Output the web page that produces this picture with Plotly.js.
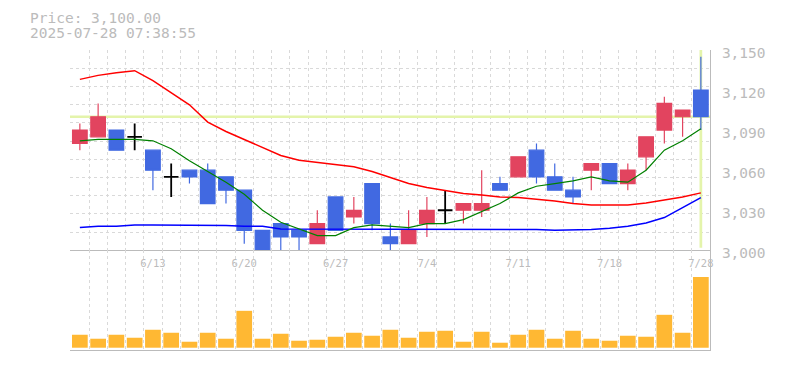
<!DOCTYPE html>
<html><head><meta charset="utf-8">
<script src="https://cdn.plot.ly/plotly-3.0.1.min.js"></script>
<style>html,body{margin:0;padding:0;background:#fff}#chart{width:785px;height:370px}</style>
</head><body><div id="chart"></div>
<script>
// ---- data ----
const dates = ['6/9','6/10','6/11','6/12','6/13','6/16','6/17','6/18','6/19','6/20','6/23','6/24','6/25','6/26','6/27','6/30','7/1','7/2','7/3','7/4','7/7','7/8','7/9','7/10','7/11','7/14','7/15','7/16','7/17','7/18','7/22','7/23','7/24','7/25','7/28'];
const openP  = [3080,3085,3090,3085,3075,3055,3060,3060,3055,3045,3015,3020,3015,3005,3040,3025,3050,3010,3005,3020,3030,3030,3030,3050,3055,3075,3055,3045,3060,3065,3050,3070,3090,3100,3120];
const highP  = [3095,3110,3090,3095,3075,3065,3060,3065,3055,3045,3015,3020,3015,3030,3040,3040,3050,3020,3030,3040,3045,3035,3060,3055,3070,3080,3065,3055,3065,3065,3065,3085,3115,3105,3145];
const lowP   = [3075,3085,3075,3075,3045,3040,3050,3035,3035,3005,2998,2998,2998,3005,3015,3020,3015,2998,3005,3010,3020,3020,3025,3045,3055,3050,3045,3035,3045,3050,3045,3060,3080,3085,3090];
const closeP = [3090,3100,3075,3085,3060,3055,3055,3035,3045,3015,2999,3010,3010,3020,3015,3030,3020,3005,3015,3030,3030,3035,3035,3045,3070,3055,3045,3040,3065,3050,3060,3085,3110,3105,3100];
const maShort = [3082,3083,3083,3083,3082,3076,3067,3059,3051,3042,3030,3021,3016,3011,3011,3017,3019,3018,3017,3020,3020,3023,3029,3035,3043,3048,3050,3052,3055,3052,3051,3060,3075,3082,3091];
const maMid   = [3128,3131,3133,3134.5,3127,3118,3109,3096,3089,3083,3077,3071,3067.5,3066,3064.5,3062.5,3059,3054.5,3050,3047,3045,3042.5,3041.5,3040,3039.5,3038.5,3037,3035,3034,3034,3034,3035.5,3037.5,3040,3043];
const maLong  = [3017,3018,3018,3019,3019,3019,3019,3018.5,3018.5,3018,3018,3016,3016,3016,3016,3016,3016,3016,3016,3016,3016,3016,3015.5,3015.5,3015.5,3015.5,3015,3015,3015.5,3016.5,3018,3020.5,3024.5,3032,3039.5];
const volume  = [13,9,13,10,18,15,6,15,9,37,9,14,7,8,11,15,12,18,10,16,17,6,16,5,13,18,9,17,9,7,12,11,33,15,71];
const labelDates = ['6/13','6/20','6/27','7/4','7/11','7/18','7/28'];
const timeStamp = '2025-07-28 07:38:55';
const yTicks = [3000,3030,3060,3090,3120,3150];

// ---- derived ----
const idx = dates.map((d,i)=>i);
const last = idx.length - 1;
const isDoji = idx.map(i => openP[i] === closeP[i]);
const pick = (arr, want) => idx.filter(i => isDoji[i] === want).map(i => arr[i]);
const vmax = Math.max(...volume);
const YR = [yTicks[0], yTicks[yTicks.length-1]];

const FONT = 'DejaVu Sans Mono, Liberation Mono, monospace';
const GRAY = '#bbbbbb';
const GRID = '#d9d9d9';
const XR = [-0.54, last + 0.5];

const traces = [
  {type:'scatter', mode:'lines', x:idx, y:maLong,  line:{color:'#0000ff', width:1.5}, hoverinfo:'skip', showlegend:false},
  {type:'scatter', mode:'lines', x:idx, y:maMid,   line:{color:'#ff0000', width:1.5}, hoverinfo:'skip', showlegend:false},
  {type:'scatter', mode:'lines', x:idx, y:maShort, line:{color:'#008000', width:1.2}, hoverinfo:'skip', showlegend:false},
  {type:'candlestick', x:pick(idx,false), open:pick(openP,false), high:pick(highP,false), low:pick(lowP,false), close:pick(closeP,false),
   increasing:{line:{color:'#e2445f', width:1.2}, fillcolor:'#e2445f'},
   decreasing:{line:{color:'#4169e1', width:1.2}, fillcolor:'#4169e1'},
   whiskerwidth:0, hoverinfo:'skip', showlegend:false},
  {type:'candlestick', x:pick(idx,true), open:pick(openP,true), high:pick(highP,true), low:pick(lowP,true), close:pick(closeP,true),
   increasing:{line:{color:'#000000', width:1.8}, fillcolor:'#000000'},
   decreasing:{line:{color:'#000000', width:1.8}, fillcolor:'#000000'},
   whiskerwidth:0, hoverinfo:'skip', showlegend:false},
  {type:'bar', x:idx, y:volume, xaxis:'x2', yaxis:'y2', marker:{color:'#ffb833', line:{width:0}}, hoverinfo:'skip', showlegend:false},
  // empty traces to create the grid overlay subplots
  {type:'scatter', mode:'lines', x:[], y:[], xaxis:'x3', yaxis:'y', hoverinfo:'skip', showlegend:false},
  {type:'scatter', mode:'lines', x:[], y:[], xaxis:'x', yaxis:'y3', hoverinfo:'skip', showlegend:false}
];

const priceText = 'Price: ' + closeP[last].toLocaleString('en-US',{minimumFractionDigits:2, maximumFractionDigits:2});

const layout = {
  width:785, height:370,
  margin:{l:70, r:75, t:50, b:20},
  paper_bgcolor:'#ffffff', plot_bgcolor:'#ffffff',
  showlegend:false,
  boxgap:0.2, boxgroupgap:0, bargap:0.14,
  xaxis:{domain:[0,1], range:XR, anchor:'y', rangeslider:{visible:false},
         tickmode:'array', tickvals:labelDates.map(d=>dates.indexOf(d)), ticktext:labelDates,
         ticks:'', ticklabelstandoff:3, tickfont:{family:FONT, size:10.5, color:GRAY},
         showgrid:false, zeroline:false, showline:true, linecolor:GRAY, linewidth:1, fixedrange:true},
  xaxis3:{overlaying:'x', range:XR, anchor:'y', tickmode:'linear', tick0:0.5, dtick:1,
          showticklabels:false, ticks:'', showgrid:true, gridcolor:GRID, gridwidth:1, griddash:'3px,3px',
          zeroline:false, showline:false},
  yaxis:{domain:[0.3323,1], range:YR, side:'right', anchor:'x',
         tickmode:'array', tickvals:yTicks, tickformat:',d',
         ticks:'', ticklabelshift:3, ticklabelstandoff:8,
         tickfont:{family:FONT, size:14.5, color:GRAY},
         showgrid:false, zeroline:false, showline:true, linecolor:GRAY, linewidth:1},
  yaxis3:{overlaying:'y', range:[0,11], anchor:'x', side:'right', tickmode:'linear', tick0:0, dtick:1,
          showticklabels:false, ticks:'', showgrid:true, gridcolor:GRID, gridwidth:1, griddash:'3px,3px',
          zeroline:false, showline:false},
  xaxis2:{domain:[0,1], range:XR, anchor:'y2', tickmode:'linear', tick0:0.5, dtick:1,
          showticklabels:false, ticks:'', showgrid:true, gridcolor:GRID, gridwidth:1, griddash:'3px,3px',
          zeroline:false, showline:true, linecolor:GRAY, linewidth:1},
  yaxis2:{domain:[0,0.3323], range:[-vmax*0.0324, vmax*1.376], anchor:'x2', side:'right',
          showticklabels:false, ticks:'', showgrid:false, zeroline:false, showline:true, linecolor:GRAY, linewidth:1},
  shapes:[
    {type:'line', layer:'between', xref:'x', x0:XR[0], x1:XR[1], yref:'y', y0:closeP[last], y1:closeP[last],
     line:{color:'#e4f4ab', width:2.5}},
    {type:'line', layer:'between', xref:'x', x0:last, x1:last, yref:'y', y0:YR[0]+2, y1:YR[1],
     line:{color:'#e4f4ab', width:2.7}}
  ],
  annotations:[
    {xref:'paper', yref:'paper', x:-0.066, y:1.1083, xanchor:'left', yanchor:'middle', showarrow:false,
     text:priceText, font:{family:FONT, size:14.5, color:GRAY}},
    {xref:'paper', yref:'paper', x:-0.066, y:1.0567, xanchor:'left', yanchor:'middle', showarrow:false,
     text:timeStamp, font:{family:FONT, size:14.5, color:GRAY}}
  ]
};

Plotly.newPlot('chart', traces, layout, {staticPlot:true, displayModeBar:false});
</script>
</body></html>
